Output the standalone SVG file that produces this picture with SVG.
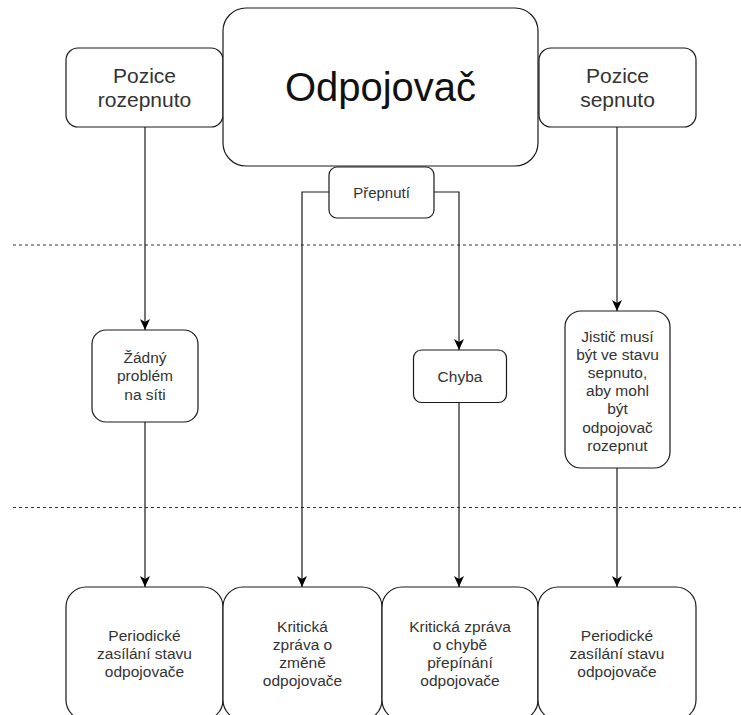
<svg xmlns="http://www.w3.org/2000/svg" width="741" height="715" viewBox="0 0 741 715">
  <style>
    .box { fill: #ffffff; stroke: #1a1a1a; stroke-width: 1.2; }
    .t { font-family: "Liberation Sans", Arial, sans-serif; fill: #333333; text-anchor: middle; }
    .s { font-size: 15.5px; }
    .m { font-size: 21px; }
    .big { font-size: 40px; fill: #111111; }
    .edge { fill: none; stroke: #1a1a1a; stroke-width: 1.2; }
    .dash { fill: none; stroke: #333333; stroke-width: 1; stroke-dasharray: 3 3; }
  </style>
  <defs>
    <marker id="arrow" viewBox="0 0 11 10" refX="11" refY="5" markerWidth="11" markerHeight="10" markerUnits="userSpaceOnUse" orient="auto">
      <path d="M0,0 L11,5 L0,10 L3,5 z" fill="#000000"/>
    </marker>
  </defs>
  <rect width="741" height="715" fill="#ffffff"/>

  <g id="separators">
    <line class="dash" x1="13" y1="245" x2="741" y2="245"/>
    <line class="dash" x1="13" y1="507.5" x2="741" y2="507.5"/>
  </g>

  <g id="connectors">
    <path class="edge" d="M145,127 L145,330" marker-end="url(#arrow)"/>
    <path class="edge" d="M145,422 L145,587" marker-end="url(#arrow)"/>
    <path class="edge" d="M329,192 L302,192 L302,587" marker-end="url(#arrow)"/>
    <path class="edge" d="M434,192 L459,192 L459,350" marker-end="url(#arrow)"/>
    <path class="edge" d="M459,403 L459,587" marker-end="url(#arrow)"/>
    <path class="edge" d="M617,127 L617,311" marker-end="url(#arrow)"/>
    <path class="edge" d="M617,468 L617,587" marker-end="url(#arrow)"/>
  </g>

  <g id="pozice-rozepnuto">
    <rect class="box" x="66" y="48" width="157" height="79" rx="12" ry="12"/>
    <text class="t m" x="144.5" y="83.2">Pozice</text>
    <text class="t m" x="144.5" y="106.5">rozepnuto</text>
  </g>

  <g id="odpojovac">
    <rect class="box" x="223" y="8" width="315" height="158" rx="23" ry="23"/>
    <text class="t big" x="380.5" y="101">Odpojovač</text>
  </g>

  <g id="pozice-sepnuto">
    <rect class="box" x="539" y="48" width="157" height="79" rx="12" ry="12"/>
    <text class="t m" x="617.5" y="83.2">Pozice</text>
    <text class="t m" x="617.5" y="106.5">sepnuto</text>
  </g>

  <g id="prepnuti">
    <rect class="box" x="329" y="167" width="105" height="51" rx="8" ry="8"/>
    <text class="t s" x="381.5" y="197.7" style="font-size:15px">Přepnutí</text>
  </g>

  <g id="zadny-problem">
    <rect class="box" x="92" y="330" width="106" height="92" rx="14" ry="14"/>
    <text class="t s" x="145" y="363.2">Žádný</text>
    <text class="t s" x="145" y="381.4">problém</text>
    <text class="t s" x="145" y="399.6">na síti</text>
  </g>

  <g id="chyba">
    <rect class="box" x="413.5" y="350" width="93" height="52.5" rx="8" ry="8"/>
    <text class="t s" x="460" y="381.6">Chyba</text>
  </g>

  <g id="jistic">
    <rect class="box" x="565" y="311" width="105" height="157" rx="16" ry="16"/>
    <text class="t s" x="617.5" y="341.5">Jistič musí</text>
    <text class="t s" x="617.5" y="359.7">být ve stavu</text>
    <text class="t s" x="617.5" y="377.9">sepnuto,</text>
    <text class="t s" x="617.5" y="396.1">aby mohl</text>
    <text class="t s" x="617.5" y="414.3">být</text>
    <text class="t s" x="617.5" y="432.5">odpojovač</text>
    <text class="t s" x="617.5" y="450.7">rozepnut</text>
  </g>

  <g id="periodicke-1">
    <rect class="box" x="66" y="587" width="157" height="133" rx="20" ry="20"/>
    <text class="t s" x="144.5" y="640.7">Periodické</text>
    <text class="t s" x="144.5" y="658.9">zasílání stavu</text>
    <text class="t s" x="144.5" y="677.1">odpojovače</text>
  </g>

  <g id="kriticka-zmena">
    <rect class="box" x="223" y="587" width="159" height="133" rx="20" ry="20"/>
    <text class="t s" x="302.5" y="631.6">Kritická</text>
    <text class="t s" x="302.5" y="649.8">zpráva o</text>
    <text class="t s" x="302.5" y="668">změně</text>
    <text class="t s" x="302.5" y="686.2">odpojovače</text>
  </g>

  <g id="kriticka-chyba">
    <rect class="box" x="382" y="587" width="156" height="133" rx="20" ry="20"/>
    <text class="t s" x="460" y="631.6">Kritická zpráva</text>
    <text class="t s" x="460" y="649.8">o chybě</text>
    <text class="t s" x="460" y="668">přepínání</text>
    <text class="t s" x="460" y="686.2">odpojovače</text>
  </g>

  <g id="periodicke-2">
    <rect class="box" x="538" y="587" width="158" height="133" rx="20" ry="20"/>
    <text class="t s" x="617" y="640.7">Periodické</text>
    <text class="t s" x="617" y="658.9">zasílání stavu</text>
    <text class="t s" x="617" y="677.1">odpojovače</text>
  </g>
</svg>
